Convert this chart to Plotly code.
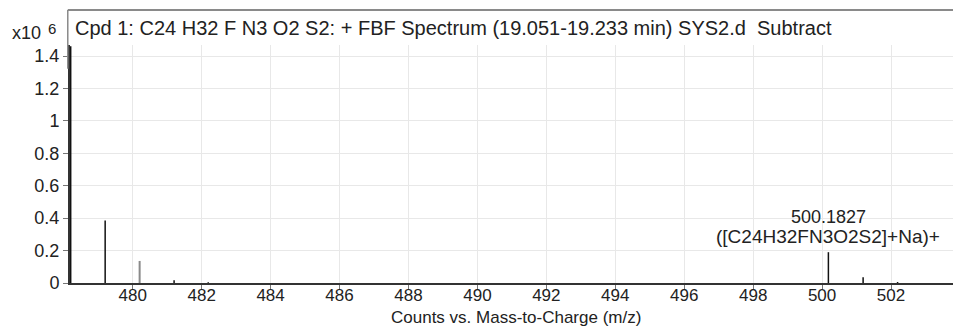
import plotly.graph_objects as go

# Peak data (m/z, intensity in units of 10^6 counts)
mz_black = [478.20, 479.20, 481.20, 482.19, 500.1827, 501.19, 502.19]
int_black = [1.46, 0.385, 0.017, 0.004, 0.19, 0.035, 0.006]
mz_gray = [480.20]
int_gray = [0.136]

x_ticks = [480, 482, 484, 486, 488, 490, 492, 494, 496, 498, 500, 502]
y_ticks = [0, 0.2, 0.4, 0.6, 0.8, 1, 1.2, 1.4]
y_tick_labels = ["0", "0.2", "0.4", "0.6", "0.8", "1", "1.2", "1.4"]

title_text = "Cpd 1: C24 H32 F N3 O2 S2: + FBF Spectrum (19.051-19.233 min) SYS2.d  Subtract"
x_title = "Counts vs. Mass-to-Charge (m/z)"
label_line1 = "500.1827"
label_line2 = "([C24H32FN3O2S2]+Na)+"
label_mz = 500.1827
label_int = 0.19


def stems(xs, ys):
    sx, sy = [], []
    for x, y in zip(xs, ys):
        sx += [x, x, None]
        sy += [0, y, None]
    return sx, sy


fig = go.Figure()
bx, by = stems(mz_black, int_black)
gx, gy = stems(mz_gray, int_gray)
fig.add_trace(go.Scatter(x=bx, y=by, mode="lines", line=dict(color="#111111", width=1.5),
                         hoverinfo="skip", showlegend=False))
fig.add_trace(go.Scatter(x=gx, y=gy, mode="lines", line=dict(color="#8a8a8a", width=2),
                         hoverinfo="skip", showlegend=False))

FAM = "Liberation Sans, Arial, sans-serif"
C = "#222222"
yfont = dict(family=FAM, size=18, color=C)
xfont = dict(family=FAM, size=17, color=C)
afont = dict(family=FAM, size=18, color=C)

fig.update_layout(
    width=953, height=320,
    margin=dict(l=62, r=0, t=37, b=45),
    paper_bgcolor="white", plot_bgcolor="white",
    font=yfont,
    xaxis=dict(range=[478.18, 504.03], tickvals=x_ticks, ticks="outside", ticklen=4,
               tickcolor="#777", showgrid=True, gridcolor="#e8e8e8", gridwidth=1,
               showline=True, linecolor="#333", linewidth=2, zeroline=False,
               tickfont=xfont, ticklabelstandoff=-8),
    yaxis=dict(range=[0, 1.468], tickvals=y_ticks, ticktext=y_tick_labels, ticks="outside",
               ticklen=5, tickcolor="#777", showgrid=True, gridcolor="#e8e8e8", gridwidth=1,
               showline=True, linecolor="#333", linewidth=2, zeroline=False, tickfont=yfont),
    annotations=[
        dict(text=title_text, xref="paper", yref="paper", x=0, y=1.0, xshift=3, yshift=17,
             xanchor="left", yanchor="middle", showarrow=False, font=dict(family=FAM, size=20, color=C)),
        dict(text="x10", xref="paper", yref="paper", x=0, y=1.0, xshift=-27, yshift=12,
             xanchor="right", yanchor="middle", showarrow=False, font=yfont),
        dict(text="6", xref="paper", yref="paper", x=0, y=1.0, xshift=-12, yshift=17,
             xanchor="right", yanchor="middle", showarrow=False, font=dict(family=FAM, size=15, color=C)),
        dict(text=x_title, xref="paper", yref="paper", x=0.5, y=0, yshift=-34,
             xanchor="center", yanchor="middle", showarrow=False, font=dict(family=FAM, size=17, color=C)),
        dict(text=label_line1, x=label_mz, y=label_int, xref="x", yref="y", yanchor="middle",
             xanchor="center", yshift=35, showarrow=False, font=afont),
        dict(text=label_line2, x=label_mz, y=label_int, xref="x", yref="y", yanchor="middle",
             xanchor="center", yshift=16, showarrow=False, font=dict(family=FAM, size=19, color=C)),
    ],
    shapes=[
        dict(type="line", xref="paper", yref="paper", x0=-0.0025, x1=1.0, y0=1.147, y1=1.147,
             line=dict(color="#8a8a8a", width=2)),
        dict(type="line", xref="paper", yref="paper", x0=-0.0025, x1=-0.0025, y0=0.9, y1=1.147,
             line=dict(color="#8a8a8a", width=1.5)),
    ],
)

fig.write_html("out.html")
